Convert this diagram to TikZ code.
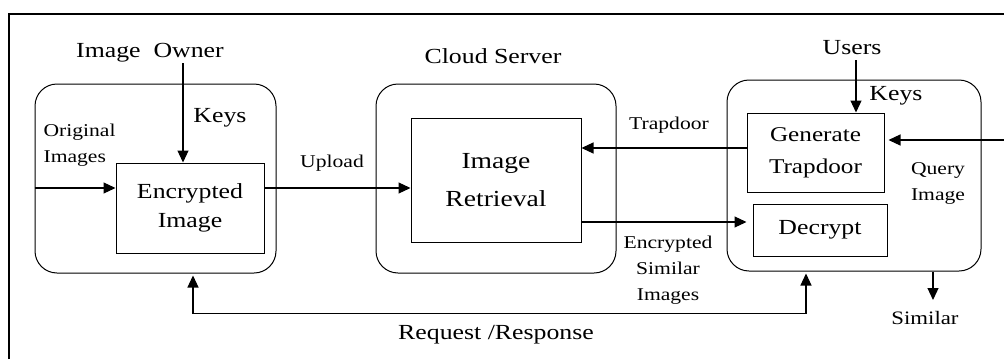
\documentclass[tikz,border=0pt]{standalone}
\usepackage{fontspec}
\setmainfont{Liberation Serif}[FakeStretch=1.2]
\usetikzlibrary{positioning, arrows.meta}

\tikzset{
  group/.style={draw, line width=1pt, rounded corners=22pt, inner sep=0pt},
  block/.style={draw, line width=1pt, inner sep=0pt, align=center,
    font=\fontsize{21.5}{29}\selectfont},
  small/.style={inner sep=0pt, align=center, font=\fontsize{18}{26}\selectfont},
  big/.style={inner sep=0pt, font=\fontsize{21.5}{26}\selectfont}
}

\begin{document}
\begin{tikzpicture}[x=1pt, y=-1pt, ->, >={Triangle[length=12pt,width=11pt]}, line width=1.2pt]
  \useasboundingbox (0,0) rectangle (1004,359);

  % Frame
  \draw[-] (9,359) -- (9,14) -- (1004,14);

  % Groups
  \node[group, minimum width=241pt, minimum height=189pt] (ownerbg) at (155.5,178.5) {};
  \node[group, minimum width=240pt, minimum height=189pt] (serverbg) at (496,178.5) {};
  \node[group, minimum width=254pt, minimum height=191pt] (userbg) at (854,175.5) {};

  % Blocks
  \node[block, minimum width=148pt, minimum height=90pt] (owner) at (190,208) {Encrypted\\Image};
  \node[block, minimum width=170pt, minimum height=124pt, font=\fontsize{23}{38}\selectfont]
    (retrieval) at (496,180) {Image\\Retrieval};
  \node[block, minimum width=137pt, minimum height=79pt, font=\fontsize{21}{32}\selectfont]
    (gentrap) at (815.5,152.5) {Generate\\Trapdoor};
  \node[block, minimum width=134pt, minimum height=52pt] (decrypt) at (820,230) {Decrypt};

  % Labels
  \node[big] (ownerlbl) at (150,53) {Image~ Owner};
  \node[big] (serverlbl) at (493,56) {Cloud Server};
  \node[big] (userlbl) at (852,48) {Users};
  \node[big] (okeys) at (220,118) {Keys};
  \node[big] (ukeys) at (896,96) {Keys};
  \node[small, align=left, anchor=west] (origlbl) at (43,145) {Original\\Images};
  \node[small] (uplbl) at (332,163) {Upload};
  \node[small] (traplbl) at (669,125) {Trapdoor};
  \node[small] (enclbl) at (668,270) {Encrypted\\Similar\\Images};
  \node[small] (querylbl) at (938,183) {Query\\Image};
  \node[small, font=\fontsize{19}{26}\selectfont] (simlbl) at (925,318) {Similar};
  \node[big] (reqlbl) at (496,335) {Request /Response};

  % Free ends
  \coordinate (okey) at (183,63);
  \coordinate (ukey) at (856,60);
  \coordinate (qin) at (1004,140);
  \coordinate (simend) at (933,300);
  \coordinate (oin) at ([yshift=20pt]owner.west);
  \coordinate (oout) at ([yshift=20pt]owner.east);
  \coordinate (tin) at ([yshift=4.5pt]gentrap.west);
  \coordinate (eout) at ([yshift=-42pt]retrieval.east);
  \coordinate (rq1) at ([xshift=37.5pt]ownerbg.south);
  \coordinate (rq2) at ([xshift=-48pt]userbg.south);

  % Owner side
  \draw (okey) -- (okey |- owner.north);
  \draw (oin -| ownerbg.west) -- (oin);
  \draw (oout) -- (oout -| retrieval.west);

  % Server side
  \draw (tin) -- (tin -| retrieval.east);
  \draw[shorten >=6pt] (eout) -- (eout -| decrypt.west);

  % User side
  \draw (ukey) -- (ukey |- gentrap.north);
  \draw[shorten >=4pt] (qin) -- (qin -| gentrap.east);
  \draw (simend |- userbg.south) -- (simend);

  % Request / response
  \draw[<->, shorten <=2pt, shorten >=2pt] (rq1) -- ++(0,40) -| (rq2);

\end{tikzpicture}
\end{document}
